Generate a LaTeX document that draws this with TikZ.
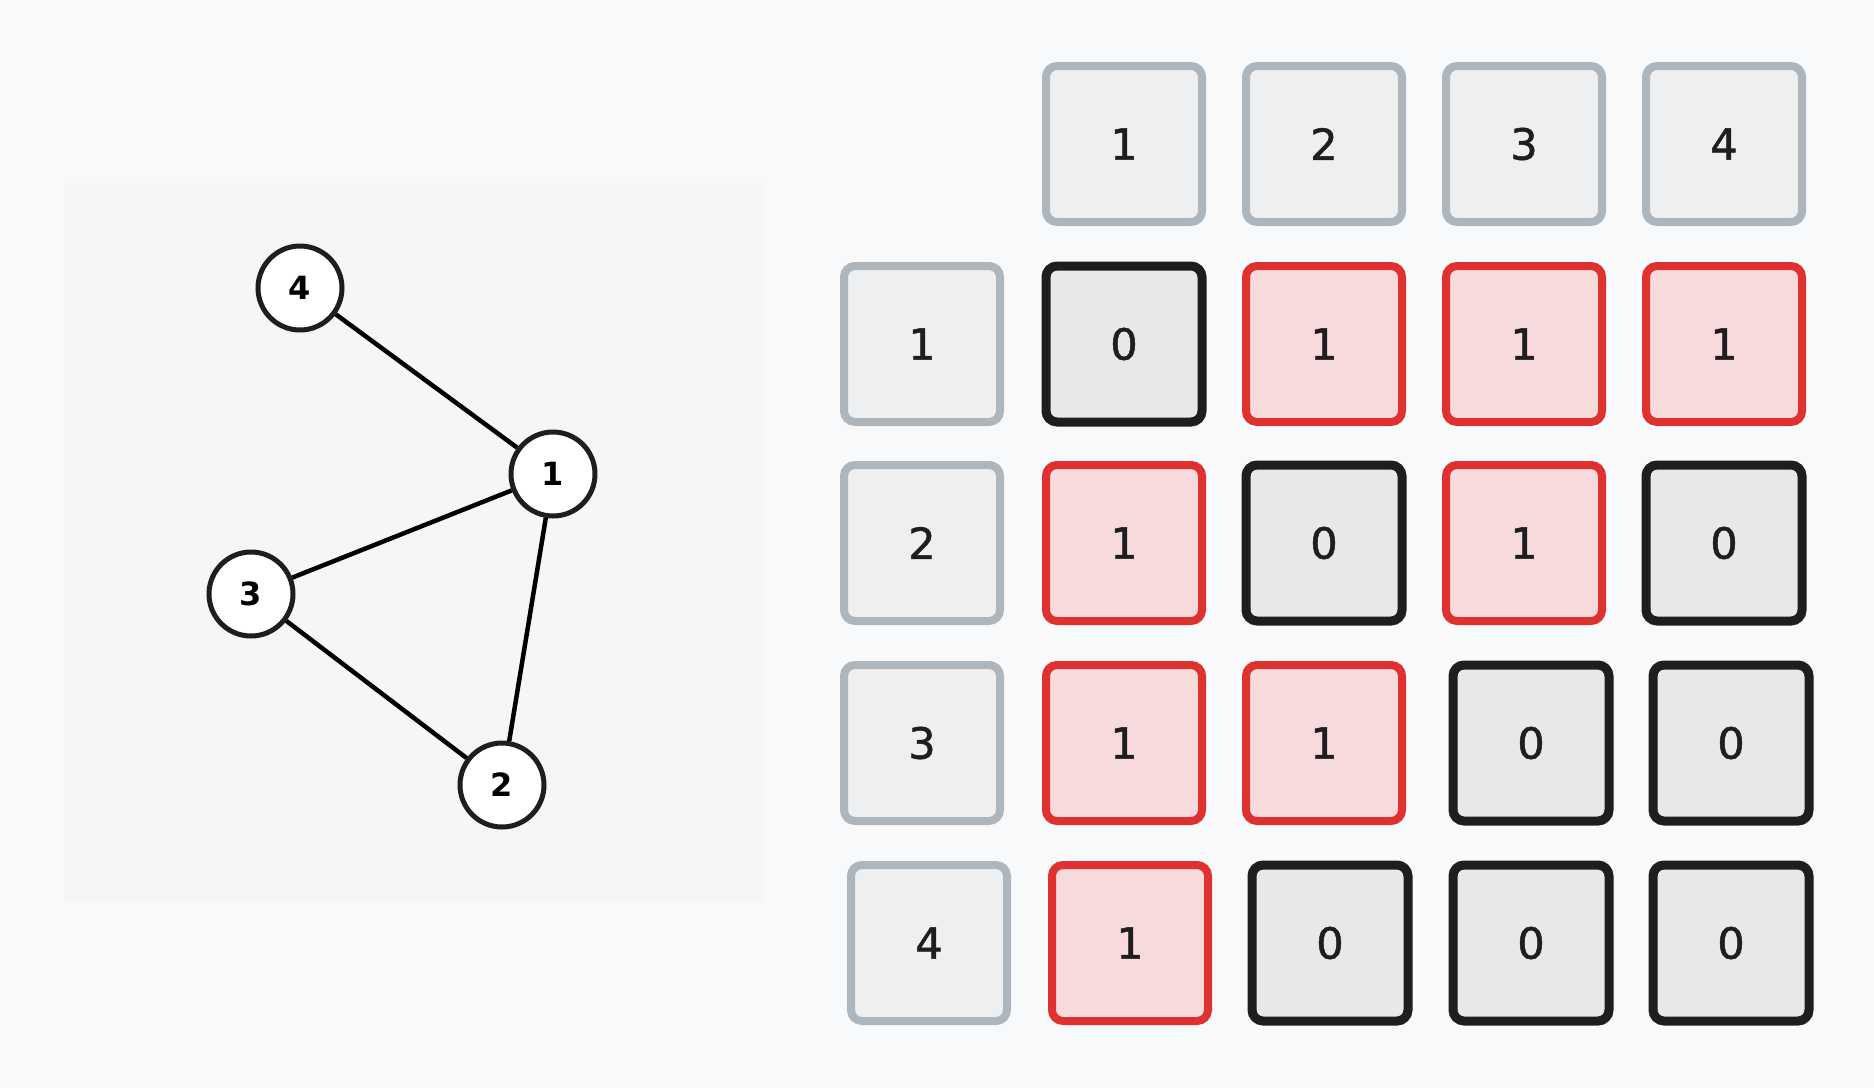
\documentclass[tikz,border=0pt]{standalone}
\usepackage{fontspec}
\setmainfont{DejaVu Sans}
\newfontfamily\cellfont[FakeBold=1.2]{DejaVu Sans}
\usepackage{tikz}
\usetikzlibrary{positioning}
\definecolor{PageBg}{HTML}{F8F9FB}
\definecolor{PanelBg}{HTML}{F6F6F6}
\definecolor{InkBlack}{HTML}{1E1E1E}
\definecolor{HeadGray}{HTML}{ADB5BD}
\definecolor{HeadFill}{HTML}{EEEFF1}
\definecolor{ZeroFill}{HTML}{E8E8E8}
\definecolor{EdgeRed}{HTML}{E03131}
\definecolor{EdgeFill}{HTML}{F7DADC}

\begin{document}
\begin{tikzpicture}[x=1pt,y=-1pt,
  vertex/.style={circle,draw=InkBlack,fill=white,line width=5pt,
                 minimum size=84pt,inner sep=0pt,text=black,
                 font=\fontsize{32}{32}\selectfont\bfseries},
  link/.style={line width=4.5pt,black},
  cellbase/.style={rounded corners=11pt,minimum size=156pt,inner sep=0pt,
                   text=InkBlack,font=\cellfont\fontsize{43}{43}\selectfont},
  headcell/.style={cellbase,draw=HeadGray,fill=HeadFill,line width=8pt},
  zerocell/.style={cellbase,draw=InkBlack,fill=ZeroFill,line width=9pt},
  onecell/.style={cellbase,draw=EdgeRed,fill=EdgeFill,line width=8pt},
]
\fill[PageBg] (0,0) rectangle (1874,1088);
\useasboundingbox (0,0) rectangle (1874,1088);
\fill[PanelBg] (64,183) rectangle (763,902);

% graph
\node[vertex] (v4) at (300,288) {4};
\node[vertex] (v1) at (553,474) {1};
\node[vertex] (v3) at (251,594) {3};
\node[vertex] (v2) at (502,785) {2};
\draw[link] (v4) -- (v1);
\draw[link] (v1) -- (v3);
\draw[link] (v1) -- (v2);
\draw[link] (v3) -- (v2);

% column headers
\node[headcell] (colhead1) at (1124,144) {1};
\node[headcell] (colhead2) at (1324,144) {2};
\node[headcell] (colhead3) at (1524,144) {3};
\node[headcell] (colhead4) at (1724,144) {4};

% row headers
\node[headcell] (rowhead1) at (922,344) {1};
\node[headcell] (rowhead2) at (922,543) {2};
\node[headcell] (rowhead3) at (922,743) {3};
\node[headcell] (rowhead4) at (929,943) {4};

% adjacency matrix
\node[zerocell] (cell11) at (1124,344) {0};
\node[onecell]  (cell12) at (1324,344) {1};
\node[onecell]  (cell13) at (1524,344) {1};
\node[onecell]  (cell14) at (1724,344) {1};

\node[onecell]  (cell21) at (1124,543) {1};
\node[zerocell] (cell22) at (1324,543) {0};
\node[onecell]  (cell23) at (1524,543) {1};
\node[zerocell] (cell24) at (1724,543) {0};

\node[onecell]  (cell31) at (1124,743) {1};
\node[onecell]  (cell32) at (1324,743) {1};
\node[zerocell] (cell33) at (1531,743) {0};
\node[zerocell] (cell34) at (1731,743) {0};

\node[onecell]  (cell41) at (1130,943) {1};
\node[zerocell] (cell42) at (1330,943) {0};
\node[zerocell] (cell43) at (1531,943) {0};
\node[zerocell] (cell44) at (1731,943) {0};
\end{tikzpicture}
\end{document}
